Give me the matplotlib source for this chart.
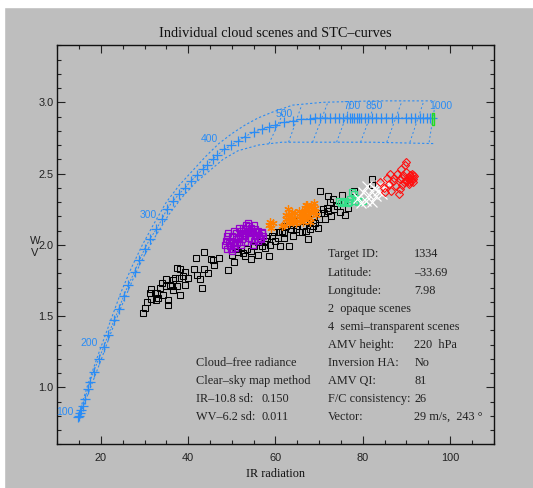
import numpy as np
import matplotlib.pyplot as plt
from matplotlib.patches import Rectangle
from matplotlib.ticker import MultipleLocator

# STC curve (IR, WV) with pressure labels
stc_x = [14.8, 15.0, 15.2, 15.4, 15.8, 16.3, 17.0, 17.5, 18.3, 19.5,
         20.6, 21.7, 23.0, 24.1, 25.2, 26.3, 27.7, 28.8, 30.0, 31.2,
         32.7, 34.0, 35.1, 36.6, 38.0, 39.3, 40.7, 42.1, 43.3, 44.4,
         45.6, 46.7, 48.3, 49.9, 51.5, 53.0, 55.0, 56.9, 58.5, 60.0,
         62.0, 63.9, 65.8, 67.8, 69.0, 70.2, 71.4, 72.6, 73.6, 74.6,
         75.5, 76.3, 77.0, 77.6, 78.1, 78.6, 79.1, 79.7, 80.4, 81.2,
         82.1, 83.1, 84.2, 85.4, 86.7, 88.1, 89.9, 91.0, 92.0, 93.0,
         93.9, 94.7, 95.4, 95.9]
stc_y = [0.79, 0.80, 0.82, 0.84, 0.87, 0.92, 0.99, 1.04, 1.11, 1.20,
         1.28, 1.37, 1.47, 1.55, 1.64, 1.72, 1.81, 1.89, 1.97, 2.04,
         2.11, 2.18, 2.25, 2.31, 2.36, 2.40, 2.45, 2.49, 2.53, 2.56,
         2.60, 2.63, 2.67, 2.70, 2.73, 2.76, 2.79, 2.81, 2.83, 2.84,
         2.86, 2.87, 2.88, 2.885, 2.89, 2.89, 2.89, 2.89, 2.89, 2.89,
         2.89, 2.89, 2.89, 2.89, 2.89, 2.89, 2.89, 2.89, 2.89, 2.89,
         2.89, 2.89, 2.89, 2.89, 2.89, 2.89, 2.89, 2.89, 2.89, 2.89,
         2.89, 2.89, 2.89, 2.89]

upper_x = [15.0, 17.0, 19.5, 22.0, 24.5, 27.0, 29.5, 32.0, 35.0, 38.0, 41.0,
           44.0, 47.0, 50.0, 53.0, 56.0, 59.2, 63.9, 70.9, 82.5, 96.6]
upper_y = [0.82, 1.02, 1.24, 1.45, 1.66, 1.84, 2.00, 2.14, 2.30, 2.42, 2.52,
           2.62, 2.71, 2.78, 2.84, 2.89, 2.93, 2.98, 3.00, 3.01, 3.01]
lower_x = [15.0, 17.5, 20.0, 22.5, 25.0, 27.5, 30.0, 32.5, 35.5, 38.5,
           41.5, 44.5, 48.0, 51.4, 56.1, 61.5, 70.9, 82.0, 96.6]
lower_y = [0.79, 0.99, 1.19, 1.40, 1.59, 1.77, 1.93, 2.06, 2.21, 2.33,
           2.43, 2.51, 2.60, 2.66, 2.70, 2.72, 2.72, 2.72, 2.71]

hatch_x0 = [58.5, 63.0, 68.5, 74.0, 79.5, 85.5, 90.8, 95.2]
hatch_y0 = [2.71, 2.72, 2.72, 2.72, 2.72, 2.72, 2.72, 2.72]
hatch_x1 = [62.0, 66.0, 72.0, 77.5, 83.0, 89.0, 94.0, 96.6]
hatch_y1 = [2.94, 2.98, 3.00, 3.01, 3.01, 3.01, 3.01, 2.99]

pres_labels = ['100', '200', '300', '400', '500', '700', '850', '1000']
pres_x = [11.7, 17.3, 30.8, 44.8, 61.9, 77.5, 82.5, 97.9]
pres_y = [0.83, 1.31, 2.21, 2.74, 2.92, 2.975, 2.975, 2.975]

end_x = [96.2]
end_y = [2.885]

# cloud scene pixels
black_x = [29.6, 30.0, 31.2, 31.5, 32.3, 32.7, 32.9, 33.5, 34.3, 35.0, 35.4, 35.4, 35.0,
           35.8, 36.2, 36.6, 37.0, 37.4, 37.8, 37.4, 38.2, 38.9, 39.3, 38.2, 39.3, 41.3,
           42.1, 42.8, 43.2, 41.7, 43.6, 45.2, 43.6, 45.6, 47.1, 49.1, 50.6, 51.4, 52.2,
           53.0, 54.5, 54.5, 56.1, 56.9, 57.6, 58.4, 57.6, 58.8, 59.2, 59.6, 60.0, 60.8,
           61.1, 61.5, 61.9, 62.3, 63.1, 63.5, 63.9, 64.7, 65.4, 65.4, 66.2, 67.0, 67.4,
           67.8, 68.5, 68.9, 69.7, 70.1, 70.5, 70.9, 71.3, 71.7, 72.1, 72.4, 72.8, 73.2,
           74.0, 74.8, 75.2, 75.6, 76.0, 77.9, 82.2, 82.2,
           50.0, 51.0, 52.5, 53.5, 55.0, 56.0, 58.0, 60.5, 62.0, 63.0, 64.0, 66.0, 67.0,
           68.0, 69.0, 70.0, 71.0, 72.0, 73.5, 76.5, 46.0, 44.5, 40.0, 36.5, 34.0, 33.0,
           30.5, 31.5]
black_y = [1.52, 1.56, 1.66, 1.69, 1.66, 1.61, 1.66, 1.70, 1.65, 1.76, 1.58, 1.61, 1.71,
           1.72, 1.71, 1.75, 1.77, 1.84, 1.77, 1.71, 1.83, 1.78, 1.72, 1.65, 1.81, 1.83,
           1.79, 1.76, 1.70, 1.91, 1.95, 1.90, 1.83, 1.89, 1.91, 1.82, 1.88, 1.95, 1.98,
           1.92, 1.96, 1.90, 1.93, 1.99, 1.98, 1.92, 2.03, 2.00, 2.06, 2.09, 2.03, 2.09,
           1.99, 2.10, 2.05, 2.13, 1.99, 2.11, 2.06, 2.11, 2.09, 2.17, 2.13, 2.17, 2.04,
           2.11, 2.13, 2.20, 2.12, 2.38, 2.22, 2.25, 2.18, 2.26, 2.34, 2.30, 2.20, 2.32,
           2.27, 2.23, 2.35, 2.30, 2.21, 2.38, 2.42, 2.46,
           1.93, 1.97, 1.94, 1.97, 1.99, 2.02, 2.05, 2.05, 2.08, 2.15, 2.14, 2.09, 2.10,
           2.16, 2.15, 2.18, 2.22, 2.24, 2.25, 2.26, 1.86, 1.80, 1.77, 1.68, 1.73, 1.63,
           1.60, 1.62]

purple_x = [48.5, 49.0, 49.5, 50.0, 50.3, 50.8, 51.0, 51.5, 52.0, 52.0, 52.5, 52.8,
            53.0, 53.3, 53.6, 54.0, 54.3, 54.6, 55.0, 55.2, 55.6, 56.0, 56.4, 56.8,
            57.2, 49.2, 50.5, 51.8, 48.8, 50.0, 53.8, 55.0, 51.2, 52.3, 54.8,
            48.6, 49.4, 49.9, 50.6, 51.3, 51.7, 52.6, 53.1, 53.5, 54.1, 54.5, 55.3,
            55.8, 56.2, 56.6, 57.0, 48.9, 49.7, 50.9, 51.6, 52.9, 53.9, 54.9, 56.1]
purple_y = [2.00, 2.04, 1.99, 2.06, 2.02, 1.98, 2.08, 2.04, 2.10, 2.00, 2.12, 2.06,
            2.02, 2.14, 2.09, 2.05, 2.12, 2.08, 2.03, 2.11, 2.07, 2.10, 2.05, 2.08,
            2.06, 2.08, 2.10, 2.07, 1.97, 1.96, 2.15, 2.14, 2.01, 2.04, 2.00,
            2.03, 2.01, 2.03, 2.00, 2.05, 2.02, 2.08, 2.07, 2.11, 2.09, 2.04, 2.06,
            2.09, 2.07, 2.04, 2.09, 2.06, 1.97, 2.04, 2.12, 2.10, 2.13, 2.10, 2.03]

orange_x = [58.5, 59.0, 59.5, 62.0, 62.5, 63.0, 63.0, 63.5, 64.0, 64.5, 65.5, 66.0,
            66.5, 66.8, 67.0, 67.3, 67.6, 68.0, 68.2, 68.6, 69.0, 69.3, 67.8, 66.3,
            62.8, 61.5, 65.0, 68.8, 58.8, 62.3, 63.8, 64.3, 65.3, 65.8, 66.6, 67.1,
            67.5, 68.4, 69.1, 64.8, 63.3, 66.9]
orange_y = [2.14, 2.12, 2.15, 2.14, 2.18, 2.21, 2.15, 2.19, 2.16, 2.22, 2.20, 2.23,
            2.18, 2.26, 2.21, 2.28, 2.24, 2.19, 2.27, 2.23, 2.26, 2.21, 2.16, 2.16,
            2.25, 2.13, 2.17, 2.29, 2.16, 2.21, 2.23, 2.19, 2.24, 2.18, 2.20, 2.24,
            2.20, 2.25, 2.23, 2.15, 2.17, 2.28]

green_x = [74.5, 75.5, 76.0, 76.5, 77.0, 77.5, 78.0, 78.2, 79.0, 80.0, 75.0, 76.8, 78.5]
green_y = [2.31, 2.30, 2.31, 2.29, 2.32, 2.37, 2.36, 2.31, 2.30, 2.31, 2.29, 2.30, 2.33]

white_x = [79.0, 80.0, 80.8, 81.5, 82.0, 82.5, 83.0, 83.5, 84.0, 84.5, 85.0, 85.5, 81.0, 79.5]
white_y = [2.33, 2.37, 2.31, 2.35, 2.30, 2.40, 2.34, 2.38, 2.42, 2.36, 2.40, 2.44, 2.41, 2.29]

red_x = [84.0, 84.8, 85.5, 86.0, 86.5, 87.0, 87.5, 87.8, 88.2, 88.5, 88.8, 89.0, 89.3,
         89.6, 89.8, 90.0, 90.3, 90.5, 90.8, 91.0, 91.3, 91.5, 91.8, 91.2, 90.6, 89.5,
         87.2, 86.2, 89.9, 88.6, 85.0, 90.9, 91.6, 90.2, 89.1, 91.4, 90.7]
red_y = [2.44, 2.40, 2.47, 2.43, 2.38, 2.45, 2.41, 2.50, 2.36, 2.46, 2.53, 2.42, 2.49,
         2.56, 2.45, 2.51, 2.47, 2.43, 2.49, 2.45, 2.47, 2.44, 2.48, 2.50, 2.46, 2.44,
         2.47, 2.50, 2.58, 2.39, 2.37, 2.47, 2.46, 2.45, 2.47, 2.49, 2.44]

info_left = ['Cloud–free radiance', 'Clear–sky map method', 'IR–10.8 sd:', 'WV–6.2 sd:']
info_left_val = ['', '', '0.150', '0.011']
info_right = ['Target ID:', 'Latitude:', 'Longitude:', '2  opaque scenes',
              '4  semi–transparent scenes', 'AMV height:', 'Inversion HA:', 'AMV QI:',
              'F/C consistency:', 'Vector:']
info_right_val = ['1334', '–33.69', '7.98', '', '', '220  hPa', 'No', '81', '26',
                  '29 m/s,  243 °']

bg = '#bebebe'
blue = '#2a8cf5'
serif = 'Liberation Serif'
sans = 'Liberation Sans'

fig = plt.figure(figsize=(5.33, 4.88), dpi=100, facecolor=bg)
fig.patches.append(Rectangle((0, 1 - 7 / 488), 1, 7 / 488, transform=fig.transFigure,
                             color='white', zorder=-1))
fig.patches.append(Rectangle((0, 0), 4 / 533, 1, transform=fig.transFigure,
                             color='white', zorder=-1))
ax = fig.add_axes([57.3 / 533, 1 - 444.3 / 488, 436.4 / 533, 399 / 488])
ax.set_facecolor(bg)

# envelope + hatch
ax.plot(upper_x, upper_y, color=blue, lw=0.8, dashes=(2, 2))
ax.plot(lower_x, lower_y, color=blue, lw=0.8, dashes=(2, 2))
for x0, y0, x1, y1 in zip(hatch_x0, hatch_y0, hatch_x1, hatch_y1):
    ax.plot([x0, x1], [y0, y1], color=blue, lw=0.7, dashes=(2, 2.5))

ax.plot(stc_x, stc_y, color=blue, lw=0.7, dashes=(2, 1.5), marker='+', ms=6.5, mew=0.9)
rect = [(-0.2, -1), (0.2, -1), (0.2, 1), (-0.2, 1), (-0.2, -1)]
ax.plot(end_x, end_y, ls='none', marker=rect, ms=9, mfc='none', mec='#22dd22', mew=1)

for lab, x, y in zip(pres_labels, pres_x, pres_y):
    ax.text(x, y, lab, color=blue, fontsize=7.5, family=sans, ha='center', va='center')

# scenes
ax.plot(black_x, black_y, ls='none', marker='s', ms=4.6, mfc='none', mec='black', mew=0.75)
ax.plot(purple_x, purple_y, ls='none', marker='s', ms=4.6, mfc='none', mec='#9400cc', mew=0.9)
ax.plot(orange_x, orange_y, ls='none', marker=(6, 2, 0), ms=6, mec='#ff8000', mew=0.9)
ax.plot(green_x, green_y, ls='none', marker='s', ms=4.8, mfc='none', mec='#33e08a', mew=0.9)
ax.plot(white_x, white_y, ls='none', marker='x', ms=6.5, mec='white', mew=0.9)
ax.plot(red_x, red_y, ls='none', marker='D', ms=4.2, mfc='none', mec='#ff1010', mew=0.8)

# info text
row_y = [0.476, 0.4286, 0.3835, 0.3383, 0.2932, 0.2489, 0.2038, 0.1587, 0.1128, 0.0684]
fs = 8.8
for i, (lab, val) in enumerate(zip(info_right, info_right_val)):
    ax.text(0.6196, row_y[i], lab, transform=ax.transAxes, fontsize=fs, family=serif,
            color='#222222', va='center')
    ax.text(0.818, row_y[i], val, transform=ax.transAxes, fontsize=fs, family=serif,
            color='#222222', va='center')
for i, (lab, val) in enumerate(zip(info_left, info_left_val)):
    ax.text(0.318, row_y[6 + i], lab, transform=ax.transAxes, fontsize=fs, family=serif,
            color='#222222', va='center')
    ax.text(0.468, row_y[6 + i], val, transform=ax.transAxes, fontsize=fs, family=serif,
            color='#222222', va='center')

ax.set_xlim(10, 110)
ax.set_ylim(0.6, 3.4)
ax.xaxis.set_major_locator(MultipleLocator(20))
ax.xaxis.set_minor_locator(MultipleLocator(5))
ax.yaxis.set_major_locator(MultipleLocator(0.5))
ax.yaxis.set_minor_locator(MultipleLocator(0.1))
ax.yaxis.set_major_formatter(plt.FormatStrFormatter('%.1f'))
ax.tick_params(which='both', direction='in', top=True, right=True, color='#222222',
               width=0.8)
ax.tick_params(which='major', length=5.8)
ax.tick_params(which='minor', length=2.9)
ax.tick_params(axis='x', which='major', pad=6)
ax.tick_params(axis='y', which='major', pad=2.5)
for lab in ax.get_xticklabels() + ax.get_yticklabels():
    lab.set_family(sans)
    lab.set_fontsize(7.9)
    lab.set_color('#222222')
for s in ax.spines.values():
    s.set_color('#111111')
    s.set_linewidth(1)

ax.set_title('Individual cloud scenes and STC–curves', family=serif, fontsize=10.3,
             color='#111111', pad=6)
ax.set_xlabel('IR radiation', family=serif, fontsize=8.8, color='#111111', labelpad=4)
ax.text(-0.051, 0.5095, 'W', transform=ax.transAxes, family=sans, fontsize=8,
        color='#222222', ha='center', va='center')
ax.text(-0.051, 0.479, 'V', transform=ax.transAxes, family=sans, fontsize=8,
        color='#222222', ha='center', va='center')

fig.savefig('out.png', dpi=100, facecolor=bg)
